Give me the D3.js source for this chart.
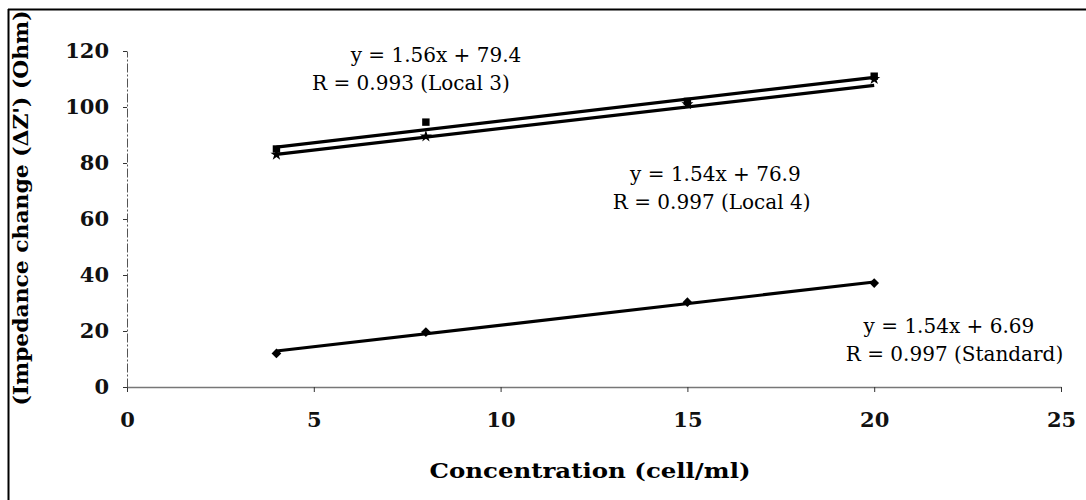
<!DOCTYPE html>
<html>
<head>
<meta charset="utf-8">
<script src="https://cdn.jsdelivr.net/npm/d3@7"></script>
<style>
  body { margin: 0; background: #fff; }
  text { font-family: "DejaVu Serif", "Liberation Serif", serif; }
</style>
</head>
<body>
<div id="chart"></div>
<script>
// concentrations (cell/ml)
const conc = [4, 8, 15, 20];
// impedance change per sample
const standardVals = [12, 19.6, 30.3, 37.1];
const local3Vals = [85, 94.6, 102, 111];
const local4Vals = [83, 89.5, 101, 110];
// fitted lines from the figure
const seriesNames = ["Local 3", "Local 4", "Standard"];
const slopes = [1.56, 1.54, 1.54];
const intercepts = [79.4, 76.9, 6.69];
const fitRange = [4, 20];
const labelLines = [
  ["y = 1.56x + 79.4", "R = 0.993 (Local 3)"],
  ["y = 1.54x + 76.9", "R = 0.997 (Local 4)"],
  ["y = 1.54x + 6.69", "R = 0.997 (Standard)"]
];
// label anchors in data units: [x line1, x line2, y line1, y line2]
const labelAnchors = [
  [8.27, 7.6, 116.1, 106.1],
  [15.75, 15.65, 73.6, 63.6],
  [22.0, 22.15, 19.3, 9.3]
];
const xTicks = [0, 5, 10, 15, 20, 25];
const yTicks = [0, 20, 40, 60, 80, 100, 120];

const W = 1086, H = 500;
const svg = d3.select("#chart").append("svg")
  .attr("width", W).attr("height", H);

// scanned frame (top and left only)
svg.append("line").attr("x1", 8).attr("x2", W).attr("y1", 9.5).attr("y2", 9.5)
  .attr("stroke", "#000").attr("stroke-width", 2);
svg.append("line").attr("x1", 8.5).attr("x2", 8.5).attr("y1", 9).attr("y2", H)
  .attr("stroke", "#000").attr("stroke-width", 2);

var x = d3.scaleLinear().domain([0, 25]).range([127, 1061]);
var y = d3.scaleLinear().domain([0, 120]).range([387, 51]);

// x axis
var gx = svg.append("g")
  .attr("transform", "translate(0," + y(0) + ")")
  .call(d3.axisBottom(x).tickValues(xTicks).tickSize(5).tickPadding(20).tickSizeOuter(0));
gx.select(".domain").attr("stroke", "#777").attr("stroke-width", 1.5);
gx.selectAll(".tick line").attr("stroke", "#333");
gx.selectAll(".tick text")
  .attr("font-family", "DejaVu Serif").attr("font-size", 21).attr("font-weight", "bold")
  .attr("fill", "#111");

// y axis
var gy = svg.append("g")
  .attr("transform", "translate(" + x(0) + ",0)")
  .call(d3.axisLeft(y).tickValues(yTicks).tickSize(4).tickPadding(14).tickSizeOuter(0));
gy.select(".domain").attr("stroke", "#555").attr("stroke-width", 1)
  .attr("stroke-dasharray", "9,2,2,2");
gy.selectAll(".tick line").attr("stroke", "#333");
gy.selectAll(".tick text")
  .attr("font-family", "DejaVu Serif").attr("font-size", 21).attr("font-weight", "bold")
  .attr("fill", "#111");

// axis titles
svg.append("text")
  .attr("x", 590).attr("y", 478)
  .attr("text-anchor", "middle")
  .attr("font-size", 21).attr("font-weight", "bold")
  .attr("textLength", 321).attr("lengthAdjust", "spacingAndGlyphs")
  .text("Concentration (cell/ml)");

svg.append("text")
  .attr("transform", "translate(28,208) rotate(-90)")
  .attr("text-anchor", "middle")
  .attr("font-size", 21).attr("font-weight", "bold")
  .attr("textLength", 395).attr("lengthAdjust", "spacingAndGlyphs")
  .text("(Impedance change (ΔZ') (Ohm)");

// trend lines
for (var i = 0; i < seriesNames.length; i++) {
  svg.append("line")
    .attr("x1", x(fitRange[0]))
    .attr("x2", x(fitRange[1]))
    .attr("y1", y(slopes[i] * fitRange[0] + intercepts[i]))
    .attr("y2", y(slopes[i] * fitRange[1] + intercepts[i]))
    .attr("stroke", "#000")
    .attr("stroke-width", 3.2);
}

// markers
var seriesVals = [local3Vals, local4Vals, standardVals];
var symbols = [d3.symbolSquare, d3.symbolStar, d3.symbolDiamond2];
var sizes = [55, 45, 60];
for (var i = 0; i < seriesVals.length; i++) {
  var vals = seriesVals[i];
  for (var j = 0; j < conc.length; j++) {
    svg.append("path")
      .attr("d", d3.symbol().type(symbols[i]).size(sizes[i])())
      .attr("transform", "translate(" + x(conc[j]) + "," + y(vals[j]) + ")")
      .attr("fill", "#000");
  }
}

// equation labels
for (var i = 0; i < labelLines.length; i++) {
  var a = labelAnchors[i];
  for (var k = 0; k < 2; k++) {
    svg.append("text")
      .attr("x", x(a[k]))
      .attr("y", y(a[2 + k]))
      .attr("text-anchor", "middle")
      .attr("font-size", 20)
      .attr("fill", "#000")
      .text(labelLines[i][k]);
  }
}
</script>
</body>
</html>
